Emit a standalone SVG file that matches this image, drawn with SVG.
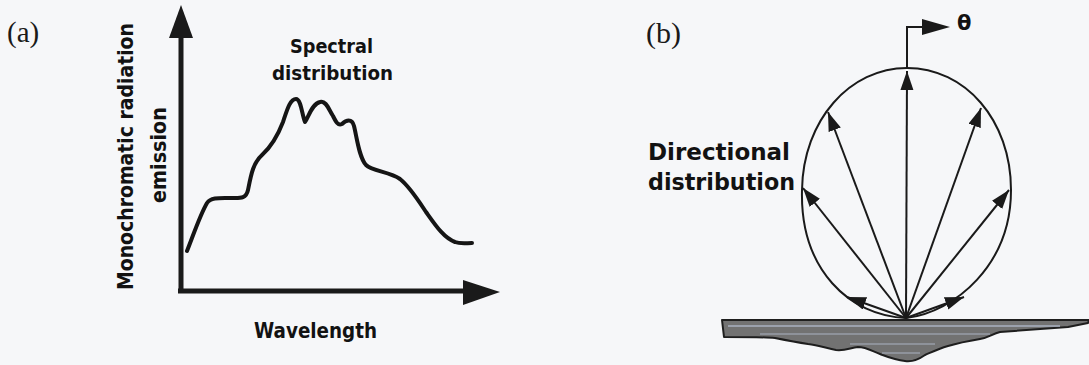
<svg xmlns="http://www.w3.org/2000/svg" width="1089" height="365" viewBox="0 0 1089 365">
  <style>
    .lbl { font-family: "DejaVu Sans", "Liberation Sans", sans-serif; font-weight: bold; fill: #121212; }
    .lblb { font-family: "DejaVu Sans", "Liberation Sans", sans-serif; font-weight: bold; fill: #121212; }
    .tag { font-family: "Liberation Serif", "Times New Roman", serif; fill: #1a1a1a; }
    .ax { stroke: #1a1a1a; stroke-width: 5; fill: none; }
    .ray { stroke: #1a1a1a; stroke-width: 2; fill: none; marker-end: url(#ah); }
  </style>
  <defs>
    <marker id="ah" markerUnits="userSpaceOnUse" markerWidth="22" markerHeight="14" refX="19" refY="6.5" orient="auto">
      <path d="M0,0 L19,6.5 L0,13 Z" fill="#1a1a1a"/>
    </marker>
  </defs>
  <rect width="1089" height="365" fill="#f6f7f9"/>

  <!-- Panel (a) -->
  <g id="panel-a-tag"><text class="tag" x="7" y="42" font-size="29">(a)</text></g>
  <g id="axes-a">
    <line class="ax" x1="181" y1="36" x2="181" y2="293"/>
    <polygon points="181,5 193,38 169,38" fill="#1a1a1a"/>
    <line class="ax" x1="178" y1="291" x2="466" y2="291"/>
    <polygon points="500,292 463,280 463,305" fill="#1a1a1a"/>
  </g>
  <g id="spectral-curve">
    <path fill="none" stroke="#151515" stroke-width="4" stroke-linejoin="round" stroke-linecap="round"
      d="M187,251 C193,236 200,215 207,203 C211,197 220,198 232,198 C240,198 246,199 248,190 C251,175 253,163 262,155 C272,146 278,135 283,122 C287,110 290,99 296,99 C301,99 302,115 305,122 C309,116 312,104 320,102 C326,100 329,110 333,116 C336,122 338,126 342,124 C346,120 352,118 354,126 C357,138 359,157 366,165 C372,171 390,172 400,179 C410,187 418,200 426,212 C436,226 444,238 455,242 C460,244 466,243 472,243"/>
  </g>
  <g id="label-spectral">
    <text class="lbl" x="290" y="53" font-size="20" textLength="83" lengthAdjust="spacingAndGlyphs">Spectral</text>
    <text class="lbl" x="272" y="80" font-size="20" textLength="121" lengthAdjust="spacingAndGlyphs">distribution</text>
  </g>
  <g id="label-wavelength">
    <text class="lbl" x="254" y="338" font-size="21" textLength="123" lengthAdjust="spacingAndGlyphs">Wavelength</text>
  </g>
  <g id="label-emission">
    <text class="lbl" transform="translate(133,290) rotate(-90)" x="0" y="0" font-size="22" textLength="267" lengthAdjust="spacingAndGlyphs">Monochromatic radiation</text>
    <text class="lbl" transform="translate(166,203) rotate(-90)" x="0" y="0" font-size="22" textLength="96" lengthAdjust="spacingAndGlyphs">emission</text>
  </g>

  <!-- Panel (b) -->
  <g id="panel-b-tag"><text class="tag" x="646" y="43" font-size="30">(b)</text></g>
  <g id="surface">
    <path d="M722,320 L1089,320 L1088,323 L1068,327 L1000,332 C992,334 988,338 980,339 C968,341 958,343 948,346 C938,349 932,352 925,355 C918,360 912,362 905,361 C895,360 888,357 880,354 C872,351 866,347 858,347 C850,348 845,351 836,350 C826,348 818,345 808,344 C795,342 785,340 775,338 C765,337 745,337 724,337 Z" fill="#727272" stroke="#1e1e1e" stroke-width="2" stroke-linejoin="round"/>
    <line x1="728" y1="326" x2="1060" y2="326" stroke="#aab2c2" stroke-width="1.5"/>
    <line x1="760" y1="334" x2="990" y2="334" stroke="#aab2c2" stroke-width="1.2"/>
    <line x1="850" y1="344" x2="935" y2="344" stroke="#aab2c2" stroke-width="1.2"/>
    <line x1="882" y1="353" x2="920" y2="353" stroke="#aab2c2" stroke-width="1"/>
  </g>
  <g id="directional-lobe">
    <path d="M906,318 C850,316 800,270 802,190 C803,120 850,68 907,68 C965,68 1011,120 1011,190 C1011,265 955,312 906,318 Z" fill="none" stroke="#1a1a1a" stroke-width="2"/>
  </g>
  <g id="connectors">
    <line class="ray" x1="906" y1="318" x2="907" y2="71"/>
    <line class="ray" x1="906" y1="318" x2="828" y2="112"/>
    <line class="ray" x1="906" y1="318" x2="981" y2="108"/>
    <line class="ray" x1="906" y1="318" x2="803" y2="188"/>
    <line class="ray" x1="906" y1="318" x2="1009" y2="190"/>
    <line class="ray" x1="906" y1="318" x2="847" y2="297"/>
    <line class="ray" x1="906" y1="318" x2="964" y2="297"/>
    <polyline points="907,68 907,27 926,27" fill="none" stroke="#1a1a1a" stroke-width="2"/>
    <polygon points="950,27 922,19 922,35" fill="#1a1a1a"/>
  </g>
  <g id="label-theta">
    <text class="lblb" x="957" y="30" font-size="21">θ</text>
  </g>
  <g id="label-directional">
    <text class="lblb" x="648" y="160" font-size="23" textLength="142" lengthAdjust="spacingAndGlyphs">Directional</text>
    <text class="lblb" x="648" y="190" font-size="23" textLength="147" lengthAdjust="spacingAndGlyphs">distribution</text>
  </g>
</svg>
